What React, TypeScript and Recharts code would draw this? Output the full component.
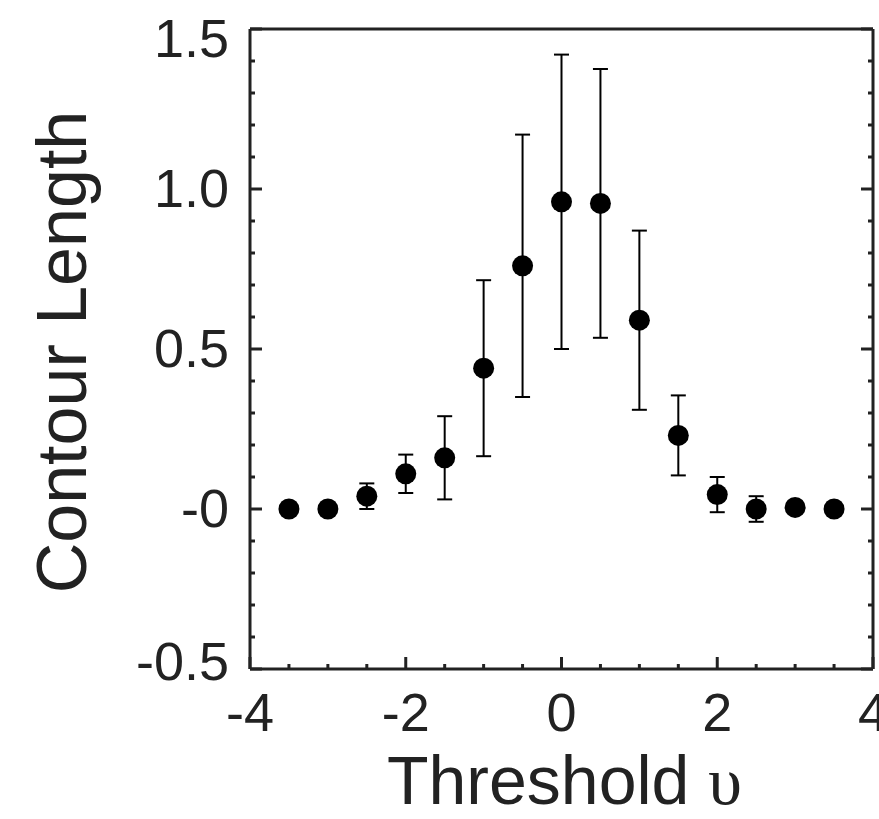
import React from "react";
import {
  ScatterChart,
  Scatter,
  XAxis,
  YAxis,
  ErrorBar,
  Label,
} from "recharts";

// threshold values (x) and the measured contour length with its spread
const thresholds = [-3.5, -3, -2.5, -2, -1.5, -1, -0.5, 0, 0.5, 1, 1.5, 2, 2.5, 3, 3.5];
const contourLength = [0.0, 0.0, 0.04, 0.11, 0.16, 0.44, 0.76, 0.96, 0.955, 0.59, 0.23, 0.045, 0.0, 0.005, 0.0];
const contourError = [0, 0, 0.04, 0.06, 0.13, 0.275, 0.41, 0.46, 0.42, 0.28, 0.125, 0.055, 0.04, 0, 0];

const xTicks = [-4, -3.5, -3, -2.5, -2, -1.5, -1, -0.5, 0, 0.5, 1, 1.5, 2, 2.5, 3, 3.5, 4];
const xMajor = [-4, -2, 0, 2, 4];
const xLabels = ["-4", "-2", "0", "2", "4"];

const yTicks = [
  -0.5, -0.4, -0.3, -0.2, -0.1, 0, 0.1, 0.2, 0.3, 0.4, 0.5, 0.6, 0.7, 0.8, 0.9,
  1, 1.1, 1.2, 1.3, 1.4, 1.5,
];
const yMajor = [-0.5, 0, 0.5, 1, 1.5];
const yLabels = ["-0.5", "-0", "0.5", "1.0", "1.5"];

const data = thresholds.map((x, i) => ({
  x,
  y: contourLength[i],
  err: contourError[i],
}));

const INK = "#222";
const FONT = "'Liberation Sans', Arial, Helvetica, sans-serif";
const MAJOR = 12;
const MINOR = 5;

const majorIndex = (list: number[], v: number) =>
  list.findIndex((m) => Math.abs(m - v) < 1e-6);

function BottomTick(props: any) {
  const { x, y, payload } = props;
  const i = majorIndex(xMajor, payload.value);
  const len = i >= 0 ? MAJOR : MINOR;
  return (
    <g>
      <line x1={x} x2={x} y1={y} y2={y - len} stroke={INK} strokeWidth={3} />
      {i >= 0 && (
        <text x={x} y={y + 62} textAnchor="middle" fontSize={54} fontFamily={FONT} fill={INK}>
          {xLabels[i]}
        </text>
      )}
    </g>
  );
}

function TopTick(props: any) {
  const { x, y, payload } = props;
  const len = majorIndex(xMajor, payload.value) >= 0 ? MAJOR : MINOR;
  return <line x1={x} x2={x} y1={y} y2={y + len} stroke={INK} strokeWidth={3} />;
}

function LeftTick(props: any) {
  const { x, y, payload } = props;
  const i = majorIndex(yMajor, payload.value);
  const len = i >= 0 ? MAJOR : MINOR;
  const base = Math.min(Math.max(y + 18, 57), 680);
  return (
    <g>
      <line x1={x} x2={x + len} y1={y} y2={y} stroke={INK} strokeWidth={3} />
      {i >= 0 && (
        <text x={x - 21} y={base} textAnchor="end" fontSize={54} fontFamily={FONT} fill={INK}>
          {yLabels[i]}
        </text>
      )}
    </g>
  );
}

function RightTick(props: any) {
  const { x, y, payload } = props;
  const len = majorIndex(yMajor, payload.value) >= 0 ? MAJOR : MINOR;
  return <line x1={x} x2={x - len} y1={y} y2={y} stroke={INK} strokeWidth={3} />;
}

const Dot = (props: any) => <circle cx={props.cx} cy={props.cy} r={10.5} fill="#000" />;

export default function App() {
  return (
    <div style={{ position: "absolute", left: 0, top: 0, background: "#fff" }}>
      <ScatterChart
        width={879}
        height={819}
        margin={{ top: 28, right: 5, bottom: 149, left: 249 }}
      >
        <XAxis
          xAxisId={0}
          type="number"
          dataKey="x"
          domain={[-4, 4]}
          ticks={xTicks}
          interval={0}
          height={1}
          tickSize={0}
          tickMargin={0}
          tick={<BottomTick />}
          axisLine={{ stroke: INK, strokeWidth: 3 }}
          allowDataOverflow
        >
          <Label
            content={(p: any) => (
              <text
                x={p.viewBox.x + p.viewBox.width / 2 + 3}
                y={804}
                textAnchor="middle"
                fontSize={68}
                fontFamily={FONT}
                fill={INK}
              >
                Threshold{" "}
                <tspan fontFamily="'Liberation Serif', 'DejaVu Serif', serif">υ</tspan>
              </text>
            )}
          />
        </XAxis>
        <XAxis
          xAxisId="top"
          orientation="top"
          type="number"
          domain={[-4, 4]}
          ticks={xTicks}
          interval={0}
          height={1}
          tickSize={0}
          tickMargin={0}
          tick={<TopTick />}
          axisLine={{ stroke: INK, strokeWidth: 3 }}
          allowDataOverflow
        />
        <YAxis
          yAxisId={0}
          type="number"
          dataKey="y"
          domain={[-0.5, 1.5]}
          ticks={yTicks}
          interval={0}
          width={1}
          tickSize={0}
          tickMargin={0}
          tick={<LeftTick />}
          axisLine={{ stroke: INK, strokeWidth: 3 }}
          allowDataOverflow
        >
          <Label
            content={(p: any) => {
              const cy = p.viewBox.y + p.viewBox.height / 2 + 3;
              return (
                <text
                  x={86}
                  y={cy}
                  transform={`rotate(-90 86 ${cy})`}
                  textAnchor="middle"
                  fontSize={70}
                  fontFamily={FONT}
                  fill={INK}
                >
                  Contour Length
                </text>
              );
            }}
          />
        </YAxis>
        <YAxis
          yAxisId="right"
          orientation="right"
          type="number"
          domain={[-0.5, 1.5]}
          ticks={yTicks}
          interval={0}
          width={1}
          tickSize={0}
          tickMargin={0}
          tick={<RightTick />}
          axisLine={{ stroke: INK, strokeWidth: 3 }}
          allowDataOverflow
        />
        <Scatter
          data={data}
          xAxisId={0}
          yAxisId={0}
          shape={<Dot />}
          isAnimationActive={false}
        >
          <ErrorBar
            dataKey="err"
            direction="y"
            width={7.5}
            stroke="#000"
            strokeWidth={2}
            isAnimationActive={false}
          />
        </Scatter>
      </ScatterChart>
    </div>
  );
}
